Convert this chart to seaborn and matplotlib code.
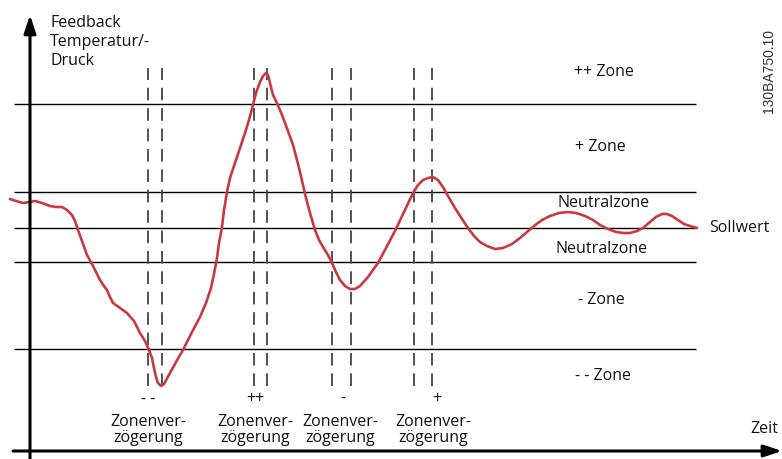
import matplotlib
matplotlib.use("Agg")
import matplotlib.pyplot as plt
import numpy as np
import pandas as pd
import seaborn as sns

sns.set_theme(style="white")
plt.rcParams["font.family"] = ["Open Sans", "DejaVu Sans"]

# diagram units: x to the right, y downwards (pixel-like scale)
curve_x = [10, 16, 23, 29, 35, 42, 50, 56, 62, 67, 72, 75, 78, 82, 87, 93, 100, 104, 107,
           110, 113, 120, 127, 134, 140, 145, 149, 152, 154, 156, 158, 161, 164, 170, 176,
           183, 191, 200, 206, 211, 214, 217, 219, 222, 224, 227, 230, 235, 240, 245, 249,
           253, 256, 260, 263, 266, 268, 270, 273, 277, 282, 288, 293, 297, 300, 303, 306,
           310, 315, 319, 323, 328, 332, 336, 340, 345, 350, 355, 360, 368, 378, 386, 395,
           404, 413, 418, 423, 428, 433, 438, 443, 448, 455, 462, 468, 474, 480, 487, 495,
           503, 512, 520, 527, 534, 542, 550, 559, 568, 576, 585, 593, 600, 608, 616, 623,
           630, 637, 643, 650, 656, 662, 667, 672, 678, 684, 690, 697]
curve_y = [199, 201, 203, 202, 201, 203, 206, 207, 207, 210, 215, 221, 230, 241, 255, 266,
           280, 286, 290, 297, 303, 308, 313, 321, 333, 341, 350, 358, 368, 377, 383, 386,
           384, 373, 362, 350, 334, 317, 303, 288, 274, 258, 243, 227, 210, 192, 178, 163,
           148, 133, 120, 105, 93, 82, 76, 73, 75, 83, 95, 103, 115, 131, 145, 160, 172,
           185, 198, 213, 230, 240, 247, 255, 263, 272, 280, 286, 289, 289, 286, 277, 263,
           248, 231, 212, 193, 185, 180, 178, 177, 180, 187, 196, 208, 219, 228, 236, 242,
           246, 249, 248, 244, 238, 232, 226, 220, 216, 213, 212, 213, 216, 220, 225, 229,
           232, 233, 233, 231, 228, 222, 217, 214, 214, 216, 220, 224, 226, 228]

zone_lines = [104, 192, 228, 262, 349]
delay_x = [148, 162, 254, 267, 332, 351, 414, 432]

zone_names = ["++ Zone", "+ Zone", "Neutralzone", "Neutralzone", "- Zone", "- - Zone"]
zone_name_x = [604, 600, 604, 602, 601, 603]
zone_name_y = [72, 147, 203, 249, 300, 376]

delay_marks = ["- -", "++", "-", "+"]
delay_mark_x = [148, 255, 343, 437]
delay_label_x = [148, 255, 340, 433]

fig = plt.figure(figsize=(7.82, 4.59), dpi=100)
ax = fig.add_axes([0, 0, 1, 1])

# zone boundaries
ax.hlines(zone_lines, 14, 696, color="black", lw=1.0)

# zone delay markers (drawn bottom-up so both ends land on a dash)
ax.vlines(delay_x, 386, 68, color="#444444", lw=1.3, linestyles=(0, (7, 4.3)))

# feedback curve
df = pd.DataFrame({"t": curve_x, "v": curve_y})
sns.lineplot(data=df, x="t", y="v", sort=False, color="#c83a40", lw=1.9, ax=ax,
             solid_joinstyle="round", solid_capstyle="round")
ax.set_xlim(0, 782)
ax.set_ylim(459, 0)
ax.axis("off")

# axes arrows
arrow = dict(arrowstyle="-|>,head_length=0.9,head_width=0.3", color="black", lw=2.2,
             shrinkA=0, shrinkB=0)
ax.annotate("", xy=(30, 15), xytext=(30, 459), arrowprops=arrow)
ax.annotate("", xy=(782, 451), xytext=(13, 451), arrowprops=arrow)

fs = 11.5
ax.text(50, 42, "Feedback\nTemperatur/-\nDruck", fontsize=fs, ha="left", va="center",
        linespacing=1.25, color="#111111")
for name, x, y in zip(zone_names, zone_name_x, zone_name_y):
    ax.text(x, y, name, fontsize=fs, ha="center", va="center", color="#111111")
ax.text(709, 228, "Sollwert", fontsize=fs, ha="left", va="center", color="#111111")
ax.text(778, 429, "Zeit", fontsize=fs, ha="right", va="center", color="#111111")

for m, x in zip(delay_marks, delay_mark_x):
    ax.text(x, 399, m, fontsize=fs, ha="center", va="center", color="#111111")
for x in delay_label_x:
    ax.text(x, 430, "Zonenver-\nzögerung", fontsize=fs, ha="center", va="center",
            linespacing=1.05, color="#111111")

ax.text(769, 71, "130BA750.10", fontsize=10, rotation=90, ha="center", va="center",
        family=["Liberation Sans", "DejaVu Sans"], color="#333333")

fig.savefig("out.png", dpi=100)
